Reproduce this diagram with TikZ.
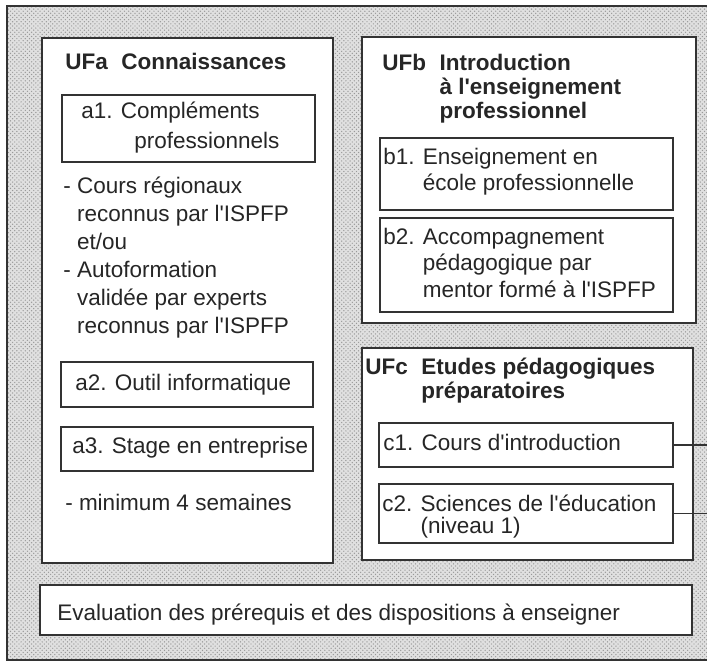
\documentclass[tikz,border=0pt]{standalone}
\usepackage{fontspec}
\setmainfont{Liberation Sans}[Ligatures=TeXOff]
\usetikzlibrary{fit,patterns}

\begin{document}
\begin{tikzpicture}[x=0.025cm, y=-0.025cm,
    every node/.style={font=\fontsize{16}{20}\selectfont, text=black!85},
    unit/.style={draw=black!80, line width=1.3pt, fill=white, inner sep=0pt},
    sub/.style={draw=black!80, line width=1.1pt, fill=white, inner sep=0pt},
    txt/.style={anchor=base west, inner sep=0pt, align=left}]
    \useasboundingbox (0,0) rectangle (707,663);
    \clip (0,0) rectangle (707,663);

    % stippled ground
    \fill[black!12] (7,6) rectangle (712,660);
    \fill[pattern=crosshatch dots, pattern color=black!40] (7,6) rectangle (712,660);
    \draw[black!80, line width=1.8pt] (712,6) -- (7,6) -- (7,660) -- (712,660);
    \coordinate (rim) at (712,0);

    % boxes
    \node[unit, fit={(42,38) (333,563)}] (ufa) {};
    \node[sub, fit={(62,95) (315,162)}] (a1) {};
    \node[sub, fit={(61,362) (313,407)}] (a2) {};
    \node[sub, fit={(61,427) (313,471)}] (a3) {};
    \node[unit, fit={(362,37) (696,323)}] (ufb) {};
    \node[sub, fit={(380,138) (673,210)}] (b1) {};
    \node[sub, fit={(380,218) (673,312)}] (b2) {};
    \node[unit, fit={(362,348) (693,560)}] (ufc) {};
    \node[sub, fit={(379,423) (673,467)}] (c1) {};
    \node[sub, fit={(379,484) (673,543)}] (c2) {};
    \node[unit, fit={(40,585) (692,635)}] (eval) {};

    \draw[black!80, line width=1pt] (c1.east) -- (c1.east -| rim);
    \draw[black!80, line width=1pt] (c2.east) -- (c2.east -| rim);

    % texts (multi-line ones sit on their last line)
    \node[txt, font=\fontsize{16}{17}\selectfont\bfseries] (ufa title) at (65,70) {UFa\hspace{0.6em}Connaissances};
    \node[txt, font=\fontsize{16}{21}\selectfont] (a1 text) at (81,148) {a1. Compléments\\\phantom{a1. }\hspace*{0.6em}professionnels};
    \node[txt, font=\fontsize{16}{19.9}\selectfont] (a1 list) at (63,333) {- Cours régionaux\\\phantom{- }reconnus par l'ISPFP\\\phantom{- }et/ou\\- Autoformation\\\phantom{- }validée par experts\\\phantom{- }reconnus par l'ISPFP};
    \node[txt] (a2 text) at (75,390) {a2. Outil informatique};
    \node[txt] (a3 text) at (72,453) {a3. Stage en entreprise};
    \node[txt] (a3 note) at (65,510) {- minimum 4 semaines};

    \node[txt, font=\fontsize{16}{17}\selectfont\bfseries] (ufb title) at (382,118) {UFb\hspace{0.6em}Introduction\\\phantom{UFb}\hspace{0.6em}à l'enseignement\\\phantom{UFb}\hspace{0.6em}professionnel};
    \node[txt, font=\fontsize{16}{17.8}\selectfont] (b1 text) at (383,190) {b1. Enseignement en\\\phantom{b1. }école professionnelle};
    \node[txt, font=\fontsize{16}{18.5}\selectfont] (b2 text) at (383,297) {b2. Accompagnement\\\phantom{b2. }pédagogique par\\\phantom{b2. }mentor formé à l'ISPFP};

    \node[txt, font=\fontsize{16}{16.4}\selectfont\bfseries] (ufc title) at (365,398) {UFc\hspace{0.6em}Etudes pédagogiques\\\phantom{UFc}\hspace{0.6em}préparatoires};
    \node[txt] (c1 text) at (383,450) {c1. Cours d'introduction};
    \node[txt, font=\fontsize{16}{15}\selectfont] (c2 text) at (382,533) {c2. Sciences de l'éducation\\\phantom{c2. }(niveau 1)};

    \node[txt] (eval text) at (57,620) {Evaluation des prérequis et des dispositions à enseigner};
\end{tikzpicture}
\end{document}
